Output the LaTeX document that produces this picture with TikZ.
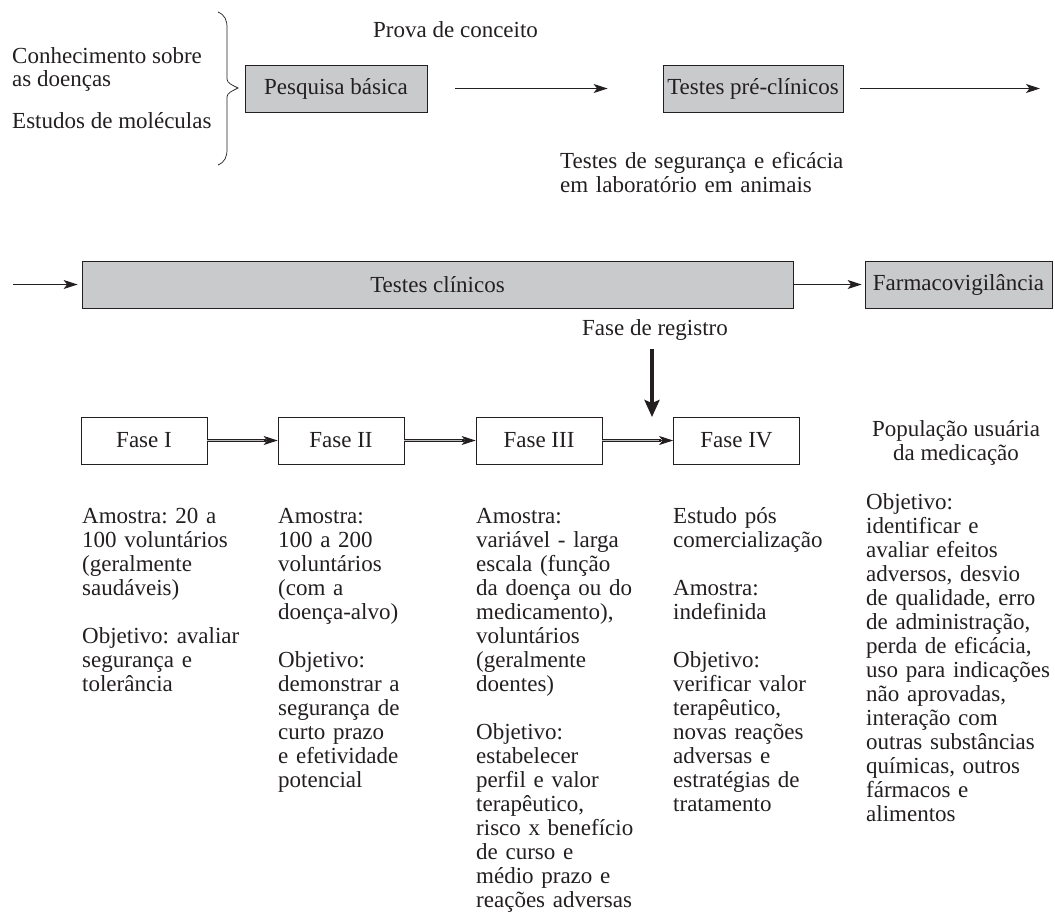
\documentclass[tikz,border=0pt]{standalone}
\usepackage{fontspec}
\setmainfont{Liberation Serif}
\usetikzlibrary{arrows.meta,calc}
\definecolor{boxgray}{RGB}{201,202,204}
\definecolor{ink}{RGB}{35,31,32}
\newcommand\myfs{\fontsize{23}{24}\selectfont\frenchspacing}
\begin{document}
\begin{tikzpicture}[x=1pt,y=-1pt,
  every node/.style={text=ink, font=\myfs},
  gbox/.style={draw=ink, line width=0.8pt, fill=boxgray, inner sep=0pt, minimum height=47pt},
  wbox/.style={draw=ink, line width=0.8pt, fill=white, inner sep=0pt, minimum height=47pt, minimum width=126pt},
  lbl/.style={anchor=base west, inner sep=0pt},
  clbl/.style={anchor=base, inner sep=0pt},
  coltext/.style={anchor=north west, inner sep=0pt, text width=330pt, align=left, execute at begin node=\strut},
  arr/.style={draw=ink, line width=0.9pt, -{Stealth[length=14pt,width=9pt,inset=3.5pt]}},
  dbl/.style={draw=ink, line width=0.7pt, double=gray!55, double distance=1.4pt},
  heavyarr/.style={draw=ink, line width=4pt, -{Stealth[length=17pt,width=15pt,inset=3pt]}}
]
\useasboundingbox (0,0) rectangle (1055,911);

% top row
\node[gbox, minimum width=182pt] (pb) at (336,88.5) {Pesquisa básica};
\node[gbox, minimum width=180pt] (tpc) at (753,88.5) {Testes pré-clínicos};
\coordinate (rEnd) at (1040,88.5);
\draw[arr, shorten <=28pt, shorten >=55pt] (pb) -- (tpc);
\draw[arr, shorten <=17pt] (tpc) -- (rEnd);

\node[lbl] (pc) at (373,37) {Prova de conceito};
\node[coltext] (seg) at (560,151.2) {Testes de segurança e eficácia\\em laboratório em animais};

\node[lbl] (con1) at (12,63) {Conhecimento sobre};
\node[lbl] (con2) at (12,86) {as doenças};
\node[lbl] (mol) at (12,128) {Estudos de moléculas};

% brace
\draw[ink, line width=0.7pt] (218,12) .. controls (225,15) and (227,20) .. (227,28)
  -- (227,79) .. controls (227,83) and (232,85) .. (238,88)
  .. controls (232,91) and (227,93) .. (227,97)
  -- (227,149) .. controls (227,157) and (225,162) .. (218,165);

% second row
\node[gbox, minimum width=711pt] (tc) at (437.5,284.5) {Testes clínicos};
\node[gbox, minimum width=187pt] (fv) at (958.5,284.5) {Farmacovigilância};
\coordinate (lStart) at (13,284.5);
\draw[arr, shorten >=4pt] (lStart) -- (tc);
\draw[arr, shorten >=3pt] (tc) -- (fv);

\node[lbl] (reg) at (582,335) {Fase de registro};
\coordinate (regTop) at (652,349);
\coordinate (regEnd) at (652,417);
\draw[heavyarr] (regTop) -- (regEnd);

% phases
\node[wbox] (f1) at (144,440.5) {Fase I};
\node[wbox] (f2) at (341,440.5) {Fase II};
\node[wbox] (f3) at (539,440.5) {Fase III};
\node[wbox] (f4) at (736.5,440.5) {Fase IV};

\draw[dbl, shorten >=12pt] (f1) -- (f2);
\draw[arr] ($(f2.west)+(-14,0)$) -- (f2.west);
\draw[dbl, shorten >=12pt] (f2) -- (f3);
\draw[arr] ($(f3.west)+(-14,0)$) -- (f3.west);
\draw[dbl, shorten >=12pt] (f3) -- (f4);
\draw[arr] ($(f4.west)+(-14,0)$) -- (f4.west);

\node[clbl] (pop1) at (956,436) {População usuária};
\node[clbl] (pop2) at (956,460) {da medicação};

% column texts
\node[coltext] (c1) at (82,506.2) {Amostra: 20 a\\100 voluntários\\(geralmente\\saudáveis)\\[24pt]Objetivo: avaliar\\segurança e\\tolerância};
\node[coltext] (c2) at (278,506.2) {Amostra:\\100 a 200\\voluntários\\(com a\\doença-alvo)\\[24pt]Objetivo:\\demonstrar a\\segurança de\\curto prazo\\e efetividade\\potencial};
\node[coltext] (c3) at (476,506.2) {Amostra:\\variável - larga\\escala (função\\da doença ou do\\medicamento),\\voluntários\\(geralmente\\doentes)\\[24pt]Objetivo:\\estabelecer\\perfil e valor\\terapêutico,\\risco x benefício\\de curso e\\médio prazo e\\reações adversas};
\node[coltext] (c4) at (673,506.2) {Estudo pós\\comercialização\\[24pt]Amostra:\\indefinida\\[24pt]Objetivo:\\verificar valor\\terapêutico,\\novas reações\\adversas e\\estratégias de\\tratamento};
\node[coltext] (c5) at (866,492.2) {Objetivo:\\identificar e\\avaliar efeitos\\adversos, desvio\\de qualidade, erro\\de administração,\\perda de eficácia,\\uso para indicações\\não aprovadas,\\interação com\\outras substâncias\\químicas, outros\\fármacos e\\alimentos};
\end{tikzpicture}
\end{document}
